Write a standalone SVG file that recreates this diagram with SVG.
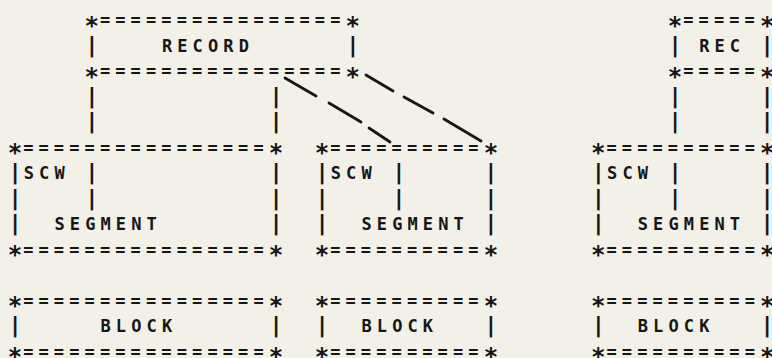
<svg xmlns="http://www.w3.org/2000/svg" width="772" height="358" viewBox="0 0 772 358" xml:space="preserve">
  <style>
    /* typewriter-style character grid: 15.35px column pitch, 25.5px row pitch */
    .t { font-family: "DejaVu Sans Mono", "Liberation Mono", monospace; font-weight: bold; font-size: 17px; letter-spacing: 5.12px; fill: #161616; white-space: pre; }
    .b { font-size: 22px; letter-spacing: 2.11px; }
    .s { font-size: 24px; letter-spacing: 0.9px; }
    .dash { stroke: #161616; stroke-width: 2.8; stroke-linecap: round; fill: none; }
  </style>
  <rect width="772" height="358" fill="#f2f0e7"/>

  <!-- record header box -->
  <g id="record">
    <text class="t" x="84.53" y="26"><tspan class="s" dy="7.8">*</tspan><tspan dy="-7.8">================</tspan><tspan class="s" dy="7.8">*</tspan></text>
    <text class="t" x="85.13" y="51.5"><tspan class="b">|</tspan>    RECORD      <tspan class="b">|</tspan></text>
    <text class="t" x="84.53" y="77"><tspan class="s" dy="7.8">*</tspan><tspan dy="-7.8">================</tspan><tspan class="s" dy="7.8">*</tspan></text>
  </g>

  <!-- narrow record header box -->
  <g id="rec">
    <text class="t" x="667.83" y="26"><tspan class="s" dy="7.8">*</tspan><tspan dy="-7.8">=====</tspan><tspan class="s" dy="7.8">*</tspan></text>
    <text class="t" x="668.43" y="51.5"><tspan class="b">|</tspan> REC <tspan class="b">|</tspan></text>
    <text class="t" x="667.83" y="77"><tspan class="s" dy="7.8">*</tspan><tspan dy="-7.8">=====</tspan><tspan class="s" dy="7.8">*</tspan></text>
  </g>

  <!-- segment boxes -->
  <g id="segment-1">
    <text class="t" x="7.78" y="153.5"><tspan class="s" dy="7.8">*</tspan><tspan dy="-7.8">================</tspan><tspan class="s" dy="7.8">*</tspan></text>
    <text class="t" x="8.38" y="179"><tspan class="b">|</tspan>SCW <tspan class="b">|</tspan>           <tspan class="b">|</tspan></text>
    <text class="t" x="8.38" y="204.5"><tspan class="b">|</tspan>    <tspan class="b">|</tspan>           <tspan class="b">|</tspan></text>
    <text class="t" x="8.38" y="230"><tspan class="b">|</tspan>  SEGMENT       <tspan class="b">|</tspan></text>
    <text class="t" x="7.78" y="255.5"><tspan class="s" dy="7.8">*</tspan><tspan dy="-7.8">================</tspan><tspan class="s" dy="7.8">*</tspan></text>
  </g>

  <g id="segment-2">
    <text class="t" x="314.78" y="153.5"><tspan class="s" dy="7.8">*</tspan><tspan dy="-7.8">==========</tspan><tspan class="s" dy="7.8">*</tspan></text>
    <text class="t" x="315.38" y="179"><tspan class="b">|</tspan>SCW <tspan class="b">|</tspan>     <tspan class="b">|</tspan></text>
    <text class="t" x="315.38" y="204.5"><tspan class="b">|</tspan>    <tspan class="b">|</tspan>     <tspan class="b">|</tspan></text>
    <text class="t" x="315.38" y="230"><tspan class="b">|</tspan>  SEGMENT <tspan class="b">|</tspan></text>
    <text class="t" x="314.78" y="255.5"><tspan class="s" dy="7.8">*</tspan><tspan dy="-7.8">==========</tspan><tspan class="s" dy="7.8">*</tspan></text>
  </g>

  <g id="segment-3">
    <text class="t" x="591.08" y="153.5"><tspan class="s" dy="7.8">*</tspan><tspan dy="-7.8">==========</tspan><tspan class="s" dy="7.8">*</tspan></text>
    <text class="t" x="591.68" y="179"><tspan class="b">|</tspan>SCW <tspan class="b">|</tspan>     <tspan class="b">|</tspan></text>
    <text class="t" x="591.68" y="204.5"><tspan class="b">|</tspan>    <tspan class="b">|</tspan>     <tspan class="b">|</tspan></text>
    <text class="t" x="591.68" y="230"><tspan class="b">|</tspan>  SEGMENT <tspan class="b">|</tspan></text>
    <text class="t" x="591.08" y="255.5"><tspan class="s" dy="7.8">*</tspan><tspan dy="-7.8">==========</tspan><tspan class="s" dy="7.8">*</tspan></text>
  </g>

  <!-- block boxes -->
  <g id="block-1">
    <text class="t" x="7.78" y="306.5"><tspan class="s" dy="7.8">*</tspan><tspan dy="-7.8">================</tspan><tspan class="s" dy="7.8">*</tspan></text>
    <text class="t" x="8.38" y="332"><tspan class="b">|</tspan>     BLOCK      <tspan class="b">|</tspan></text>
    <text class="t" x="7.78" y="357.5"><tspan class="s" dy="7.8">*</tspan><tspan dy="-7.8">================</tspan><tspan class="s" dy="7.8">*</tspan></text>
  </g>

  <g id="block-2">
    <text class="t" x="314.78" y="306.5"><tspan class="s" dy="7.8">*</tspan><tspan dy="-7.8">==========</tspan><tspan class="s" dy="7.8">*</tspan></text>
    <text class="t" x="315.38" y="332"><tspan class="b">|</tspan>  BLOCK   <tspan class="b">|</tspan></text>
    <text class="t" x="314.78" y="357.5"><tspan class="s" dy="7.8">*</tspan><tspan dy="-7.8">==========</tspan><tspan class="s" dy="7.8">*</tspan></text>
  </g>

  <g id="block-3">
    <text class="t" x="591.08" y="306.5"><tspan class="s" dy="7.8">*</tspan><tspan dy="-7.8">==========</tspan><tspan class="s" dy="7.8">*</tspan></text>
    <text class="t" x="591.68" y="332"><tspan class="b">|</tspan>  BLOCK   <tspan class="b">|</tspan></text>
    <text class="t" x="591.08" y="357.5"><tspan class="s" dy="7.8">*</tspan><tspan dy="-7.8">==========</tspan><tspan class="s" dy="7.8">*</tspan></text>
  </g>

  <!-- connectors: vertical bar pairs and the two dashed diagonals -->
  <g id="connectors">
    <text class="t" x="85.13" y="102.5"><tspan class="b">|</tspan>           <tspan class="b">|</tspan></text>
    <text class="t" x="85.13" y="128"><tspan class="b">|</tspan>           <tspan class="b">|</tspan></text>
    <text class="t" x="668.43" y="102.5"><tspan class="b">|</tspan>     <tspan class="b">|</tspan></text>
    <text class="t" x="668.43" y="128"><tspan class="b">|</tspan>     <tspan class="b">|</tspan></text>
    <path class="dash" d="M285 78 L316 96 M329 103 L361 122 M369 128 L390 142"/>
    <path class="dash" d="M366 75 L393 91 M404 97 L433 113 M444 119 L481 141"/>
  </g>
</svg>
